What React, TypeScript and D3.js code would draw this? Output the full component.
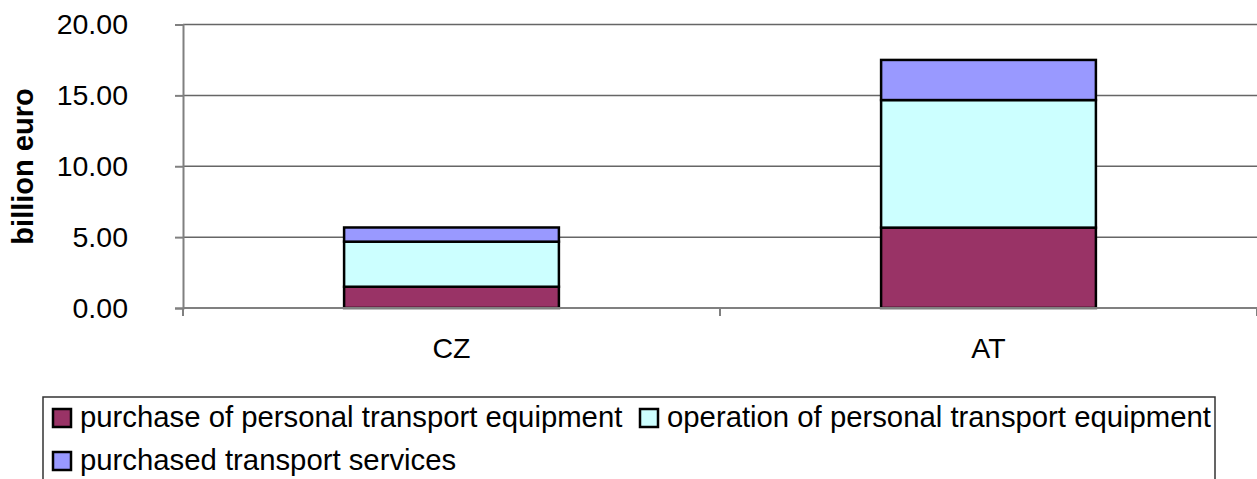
import React, { useRef, useEffect } from "react";
import * as d3 from "d3";

// values, billion euro
const countries = ["CZ", "AT"];
const purchase = [1.5, 5.67];
const operation = [3.18, 9.0];
const services = [1.0, 2.83];
const seriesNames = [
  "purchase of personal transport equipment",
  "operation of personal transport equipment",
  "purchased transport services",
];
const seriesColors = ["#993366", "#CCFFFF", "#9999FF"];
const yTicks = [0, 5, 10, 15, 20];

const W = 1257;
const H = 479;
const FONT = "'Liberation Sans', Arial, sans-serif";

const App = () => {
  const svgRef = useRef<SVGSVGElement>(null);

  useEffect(() => {
    const svg = d3.select(svgRef.current);
    svg.selectAll("*").remove();

    const x = d3.scaleBand().domain(countries).range([183, 1257]).paddingInner(0.6).paddingOuter(0.3);
    const y = d3.scaleLinear().domain([0, 20]).range([308, 24.5]);

    // gridlines
    svg.append("g")
      .selectAll("line")
      .data(yTicks.slice(1))
      .join("line")
      .attr("x1", 183).attr("x2", 1257)
      .attr("y1", d => y(d)).attr("y2", d => y(d))
      .attr("stroke", "#666").attr("stroke-width", 1.5);

    // stacked bars
    const rows = countries.map((c, i) => ({ c, p: purchase[i], o: operation[i], s: services[i] }));
    const stack = d3.stack<any>().keys(["p", "o", "s"])(rows);
    svg.append("g")
      .selectAll("g")
      .data(stack)
      .join("g")
      .attr("fill", (d, i) => seriesColors[i])
      .selectAll("rect")
      .data(d => d)
      .join("rect")
      .attr("x", d => x(d.data.c)!)
      .attr("width", x.bandwidth())
      .attr("y", d => y(d[1]))
      .attr("height", d => y(d[0]) - y(d[1]))
      .attr("stroke", "#000").attr("stroke-width", 2.5);

    // y axis
    const yAxis = d3.axisLeft(y).tickValues(yTicks).tickFormat(d3.format(".2f")).tickSize(8).tickPadding(47);
    const gy = svg.append("g").attr("transform", "translate(183,0)").call(yAxis);
    gy.select(".domain").attr("stroke", "#808080").attr("stroke-width", 2);
    gy.selectAll(".tick line").attr("stroke", "#808080").attr("stroke-width", 2);
    gy.selectAll("text").attr("font-family", FONT).attr("font-size", 28.5).attr("fill", "#000");

    // x axis
    const xb = d3.scaleLinear().domain([0, 2]).range([183, 1257]);
    svg.append("line").attr("x1", 183).attr("x2", 1257).attr("y1", 308).attr("y2", 308)
      .attr("stroke", "#808080").attr("stroke-width", 2);
    svg.append("g").selectAll("line").data([0, 1, 2]).join("line")
      .attr("x1", d => xb(d)).attr("x2", d => xb(d)).attr("y1", 308).attr("y2", 316)
      .attr("stroke", "#808080").attr("stroke-width", 2);
    svg.append("g").selectAll("text").data(countries).join("text")
      .attr("x", d => x(d)! + x.bandwidth() / 2)
      .attr("y", 358)
      .attr("text-anchor", "middle")
      .attr("font-family", FONT).attr("font-size", 28.5)
      .text(d => d);

    // y title
    svg.append("text")
      .attr("transform", "translate(33,166.5) rotate(-90)")
      .attr("text-anchor", "middle")
      .attr("font-family", FONT).attr("font-size", 29).attr("font-weight", "bold")
      .text("billion euro");

    // legend
    svg.append("rect").attr("x", 43).attr("y", 397).attr("width", 1172).attr("height", 100)
      .attr("fill", "#fff").attr("stroke", "#333").attr("stroke-width", 1.5);
    const pos = [
      { mx: 53, ty: 427 },
      { mx: 640, ty: 427 },
      { mx: 53, ty: 470 },
    ];
    const li = svg.append("g").selectAll("g").data(seriesNames).join("g")
      .attr("transform", (d, i) => `translate(${pos[i].mx},${pos[i].ty})`);
    li.append("rect").attr("x", 0).attr("y", -18).attr("width", 18).attr("height", 18)
      .attr("fill", (d, i) => seriesColors[i]).attr("stroke", "#000").attr("stroke-width", 2.5);
    li.append("text").attr("x", 27).attr("y", 0)
      .attr("font-family", FONT).attr("font-size", 29.3)
      .text(d => d);
  }, []);

  return (
    <svg ref={svgRef} width={W} height={H}
      style={{ position: "absolute", left: 0, top: 0, background: "#fff" }} />
  );
};

export default App;
